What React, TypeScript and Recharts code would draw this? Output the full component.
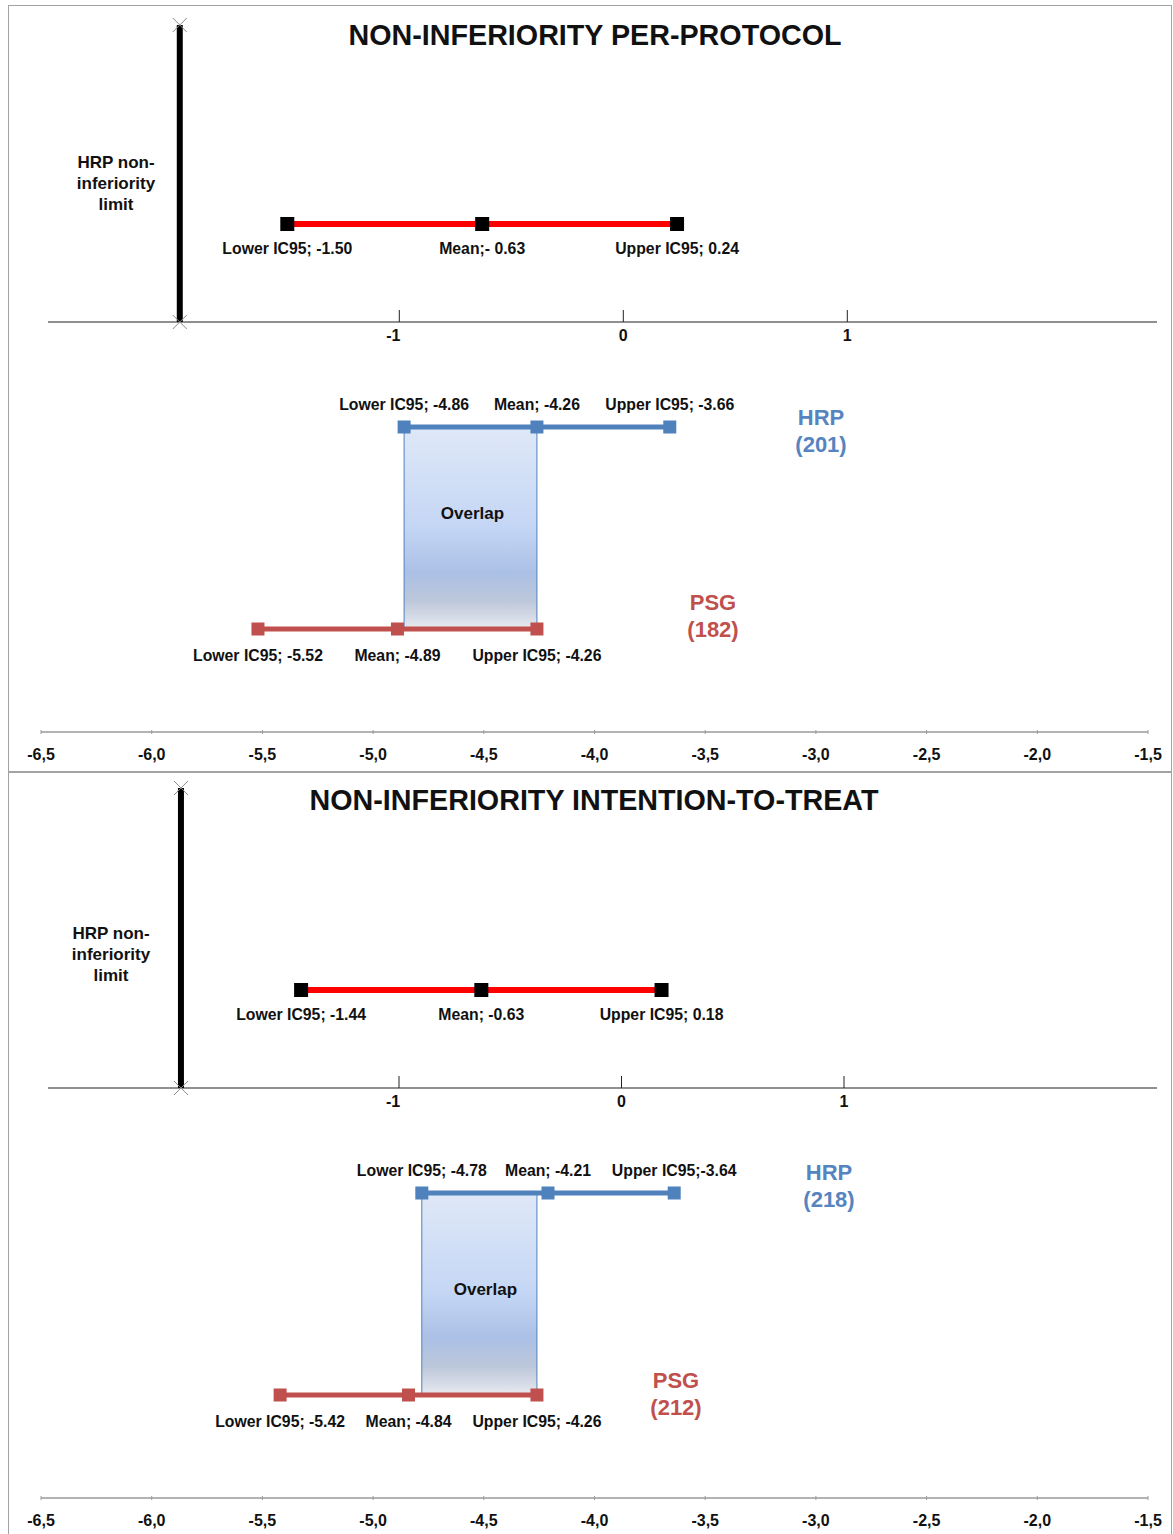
import React from 'react'
import { ComposedChart, Scatter, XAxis, YAxis, ReferenceArea, ReferenceLine } from 'recharts'

// bottom axis: absolute values, top axis: difference HRP - PSG
const ABS_TICKS = [-6.5, -6, -5.5, -5, -4.5, -4, -3.5, -3, -2.5, -2, -1.5]
const DIFF_TICKS = [-1, 0, 1]
const NI_LIMIT = -1.98

// per-protocol
const PP_DIFF = [-1.5, -0.63, 0.24]
const PP_DIFF_LABELS = ['Lower IC95; -1.50', 'Mean;- 0.63', 'Upper IC95; 0.24']
const PP_HRP = [-4.86, -4.26, -3.66]
const PP_HRP_LABELS = ['Lower IC95; -4.86', 'Mean; -4.26', 'Upper IC95; -3.66']
const PP_PSG = [-5.52, -4.89, -4.26]
const PP_PSG_LABELS = ['Lower IC95; -5.52', 'Mean; -4.89', 'Upper IC95; -4.26']
const PP_N = [201, 182]

// intention-to-treat
const ITT_DIFF = [-1.44, -0.63, 0.18]
const ITT_DIFF_LABELS = ['Lower IC95; -1.44', 'Mean; -0.63', 'Upper IC95; 0.18']
const ITT_HRP = [-4.78, -4.21, -3.64]
const ITT_HRP_LABELS = ['Lower IC95; -4.78', 'Mean; -4.21', 'Upper IC95;-3.64']
const ITT_PSG = [-5.42, -4.84, -4.26]
const ITT_PSG_LABELS = ['Lower IC95;  -5.42', 'Mean; -4.84', 'Upper IC95; -4.26']
const ITT_N = [218, 212]

const FONT = '"Liberation Sans", Arial, sans-serif'
const BLUE = '#4f81bd'
const BROWN = '#c0504d'
const RED = '#ff0000'

const CHART_W = 1173
const CHART_H = 766
const PLOT_LEFT = 41
const PLOT_RIGHT = 1148
const PLOT_H = 727

// row levels (px from panel top)
const DIFF_ROW = 219
const AXIS_ROW = 317
const HRP_ROW = 422
const PSG_ROW = 624

const txt = { fontFamily: FONT, fontWeight: 700, fill: '#111' }

const square = (size: number, color: string, labelDy: number) => (p: any) => {
  const { cx, cy, payload } = p
  return (
    <g>
      <rect x={cx - size / 2} y={cy - size / 2} width={size} height={size} fill={color} />
      <text x={cx} y={cy + labelDy} textAnchor="middle" fontSize={15.8} {...txt}>
        {payload.label}
      </text>
    </g>
  )
}

const xMark = (p: any) => {
  const { cx, cy } = p
  return (
    <g stroke="#8a8a8a" strokeWidth={1}>
      <line x1={cx - 7} y1={cy - 7} x2={cx + 7} y2={cy + 7} />
      <line x1={cx - 7} y1={cy + 7} x2={cx + 7} y2={cy - 7} />
    </g>
  )
}

const diffTick = (p: any) => {
  const { cx, cy, payload } = p
  // the "-1" label sits a little left of its tick in the original
  const dx = payload.x < 0 ? -6 : 0
  return (
    <g>
      <line x1={cx} y1={cy - 12} x2={cx} y2={cy} stroke="#222" strokeWidth={1} />
      <text x={cx + dx} y={cy + 19} textAnchor="middle" fontSize={16} {...txt}>
        {payload.label}
      </text>
    </g>
  )
}

const AbsTick = (p: any) => {
  const { x, y, payload } = p
  return (
    <g>
      <line x1={x} y1={y - 4} x2={x} y2={y} stroke="#9a9a9a" />
      <text x={x} y={y + 26} textAnchor="middle" fontSize={16} {...txt}>
        {payload.value.toFixed(1).replace('.', ',')}
      </text>
    </g>
  )
}

const rows = (vals: number[], labels: string[], y: number) =>
  vals.map((v, i) => ({ x: v, y, label: labels[i] }))

function Panel(props: any) {
  const { idx, top, title, titleX, titleY, zeroPx, unitPx, limitTop, diff, diffLabels, hrp, hrpLabels, psg, psgLabels, n, niX, niY, hrpX, hrpY, psgX, psgY, overlapDx, overlapDy } = props
  const diffDomain = [(PLOT_LEFT - zeroPx) / unitPx, (PLOT_RIGHT - zeroPx) / unitPx]
  const axisFrom = (48 - zeroPx) / unitPx
  const axisTo = (1157 - zeroPx) / unitPx
  const gid = `ovl-${idx}`
  return (
    <>
      <div style={{ position: 'absolute', left: 8, top, width: 1164, height: 768, border: '1.5px solid #a3a3a3', boxSizing: 'border-box' }} />
      <div style={{ position: 'absolute', left: 0, top, width: CHART_W, height: CHART_H }}>
        <ComposedChart width={CHART_W} height={CHART_H} margin={{ top: 0, right: CHART_W - PLOT_RIGHT, bottom: 9, left: PLOT_LEFT }}>
          <defs>
            <linearGradient id={gid} x1="0" y1="0" x2="0" y2="1">
              <stop offset="0" stopColor="#dfe8f7" />
              <stop offset="0.5" stopColor="#c4d6f5" />
              <stop offset="0.72" stopColor="#abc0e6" />
              <stop offset="0.86" stopColor="#bcc7da" />
              <stop offset="1" stopColor="#e8eaef" />
            </linearGradient>
          </defs>
          <XAxis
            xAxisId="abs"
            type="number"
            dataKey="x"
            domain={[-6.5, -1.5]}
            ticks={ABS_TICKS}
            interval={0}
            allowDataOverflow
            axisLine={{ stroke: '#9a9a9a', strokeWidth: 1.5 }}
            tickLine={false}
            tickSize={0}
            tick={(p: any) => <AbsTick {...p} />}
            height={30}
          />
          <XAxis xAxisId="diff" type="number" dataKey="x" domain={diffDomain} allowDataOverflow hide orientation="top" />
          <YAxis type="number" dataKey="y" domain={[0, PLOT_H]} reversed hide allowDataOverflow />
          <ReferenceArea
            xAxisId="abs"
            x1={hrp[0]}
            x2={psg[2]}
            y1={HRP_ROW}
            y2={PSG_ROW}
            fill={`url(#${gid})`}
            fillOpacity={1}
            stroke={BLUE}
            strokeWidth={1}
            ifOverflow="visible"
            label={{ value: 'Overlap', position: 'center', fill: '#111', fontSize: 17, fontWeight: 700, fontFamily: FONT, dx: overlapDx, dy: overlapDy }}
          />
          <ReferenceLine
            xAxisId="diff"
            segment={[{ x: axisFrom, y: AXIS_ROW }, { x: axisTo, y: AXIS_ROW }]}
            stroke="#6a6a6a"
            strokeWidth={1.5}
            ifOverflow="visible"
          />
          <Scatter xAxisId="diff" data={DIFF_TICKS.map((v) => ({ x: v, y: AXIS_ROW, label: String(v) }))} shape={diffTick} isAnimationActive={false} />
          <Scatter
            xAxisId="diff"
            data={[{ x: NI_LIMIT, y: limitTop }, { x: NI_LIMIT, y: AXIS_ROW }]}
            line={{ stroke: '#000', strokeWidth: 6 }}
            shape={xMark}
            isAnimationActive={false}
          />
          <Scatter
            xAxisId="diff"
            data={rows(diff, diffLabels, DIFF_ROW)}
            line={{ stroke: RED, strokeWidth: 6 }}
            shape={square(14, '#000', 30)}
            isAnimationActive={false}
          />
          <Scatter
            xAxisId="abs"
            data={rows(hrp, hrpLabels, HRP_ROW)}
            line={{ stroke: BLUE, strokeWidth: 5 }}
            shape={square(13, BLUE, -17)}
            isAnimationActive={false}
          />
          <Scatter
            xAxisId="abs"
            data={rows(psg, psgLabels, PSG_ROW)}
            line={{ stroke: BROWN, strokeWidth: 5 }}
            shape={square(13, BROWN, 32)}
            isAnimationActive={false}
          />
        </ComposedChart>
        <div style={{ position: 'absolute', left: titleX, top: titleY, transform: 'translate(-50%, -50%)', whiteSpace: 'nowrap', fontFamily: FONT, fontWeight: 700, fontSize: 28.7, lineHeight: 1, color: '#111' }}>
          {title}
        </div>
        <div style={{ position: 'absolute', left: niX, top: niY, transform: 'translate(-50%, -50%)', textAlign: 'center', fontFamily: FONT, fontWeight: 700, fontSize: 17, lineHeight: '21px', color: '#111' }}>
          HRP non-
          <br />
          inferiority
          <br />
          limit
        </div>
        <div style={{ position: 'absolute', left: hrpX, top: hrpY, transform: 'translate(-50%, -50%)', textAlign: 'center', fontFamily: FONT, fontWeight: 700, fontSize: 22, lineHeight: '27px', color: '#5584c0' }}>
          HRP
          <br />({n[0]})
        </div>
        <div style={{ position: 'absolute', left: psgX, top: psgY, transform: 'translate(-50%, -50%)', textAlign: 'center', fontFamily: FONT, fontWeight: 700, fontSize: 22, lineHeight: '27px', color: BROWN }}>
          PSG
          <br />({n[1]})
        </div>
      </div>
    </>
  )
}

export default function App() {
  return (
    <div style={{ position: 'absolute', left: 0, top: 0, width: 1173, height: 1534, overflow: 'hidden', background: '#fff' }}>
      <Panel
        idx={0}
        top={5}
        title="NON-INFERIORITY PER-PROTOCOL"
        titleX={595}
        titleY={30}
        zeroPx={623.3}
        unitPx={224}
        limitTop={20}
        diff={PP_DIFF}
        diffLabels={PP_DIFF_LABELS}
        hrp={PP_HRP}
        hrpLabels={PP_HRP_LABELS}
        psg={PP_PSG}
        psgLabels={PP_PSG_LABELS}
        n={PP_N}
        niX={116}
        niY={178}
        hrpX={821}
        hrpY={426}
        psgX={713}
        psgY={611}
        overlapDx={2}
        overlapDy={-15}
      />
      <Panel
        idx={1}
        top={771}
        title="NON-INFERIORITY INTENTION-TO-TREAT"
        titleX={594}
        titleY={29}
        zeroPx={621.5}
        unitPx={222.5}
        limitTop={17}
        diff={ITT_DIFF}
        diffLabels={ITT_DIFF_LABELS}
        hrp={ITT_HRP}
        hrpLabels={ITT_HRP_LABELS}
        psg={ITT_PSG}
        psgLabels={ITT_PSG_LABELS}
        n={ITT_N}
        niX={111}
        niY={183}
        hrpX={829}
        hrpY={415}
        psgX={676}
        psgY={623}
        overlapDx={6}
        overlapDy={-5}
      />
    </div>
  )
}
